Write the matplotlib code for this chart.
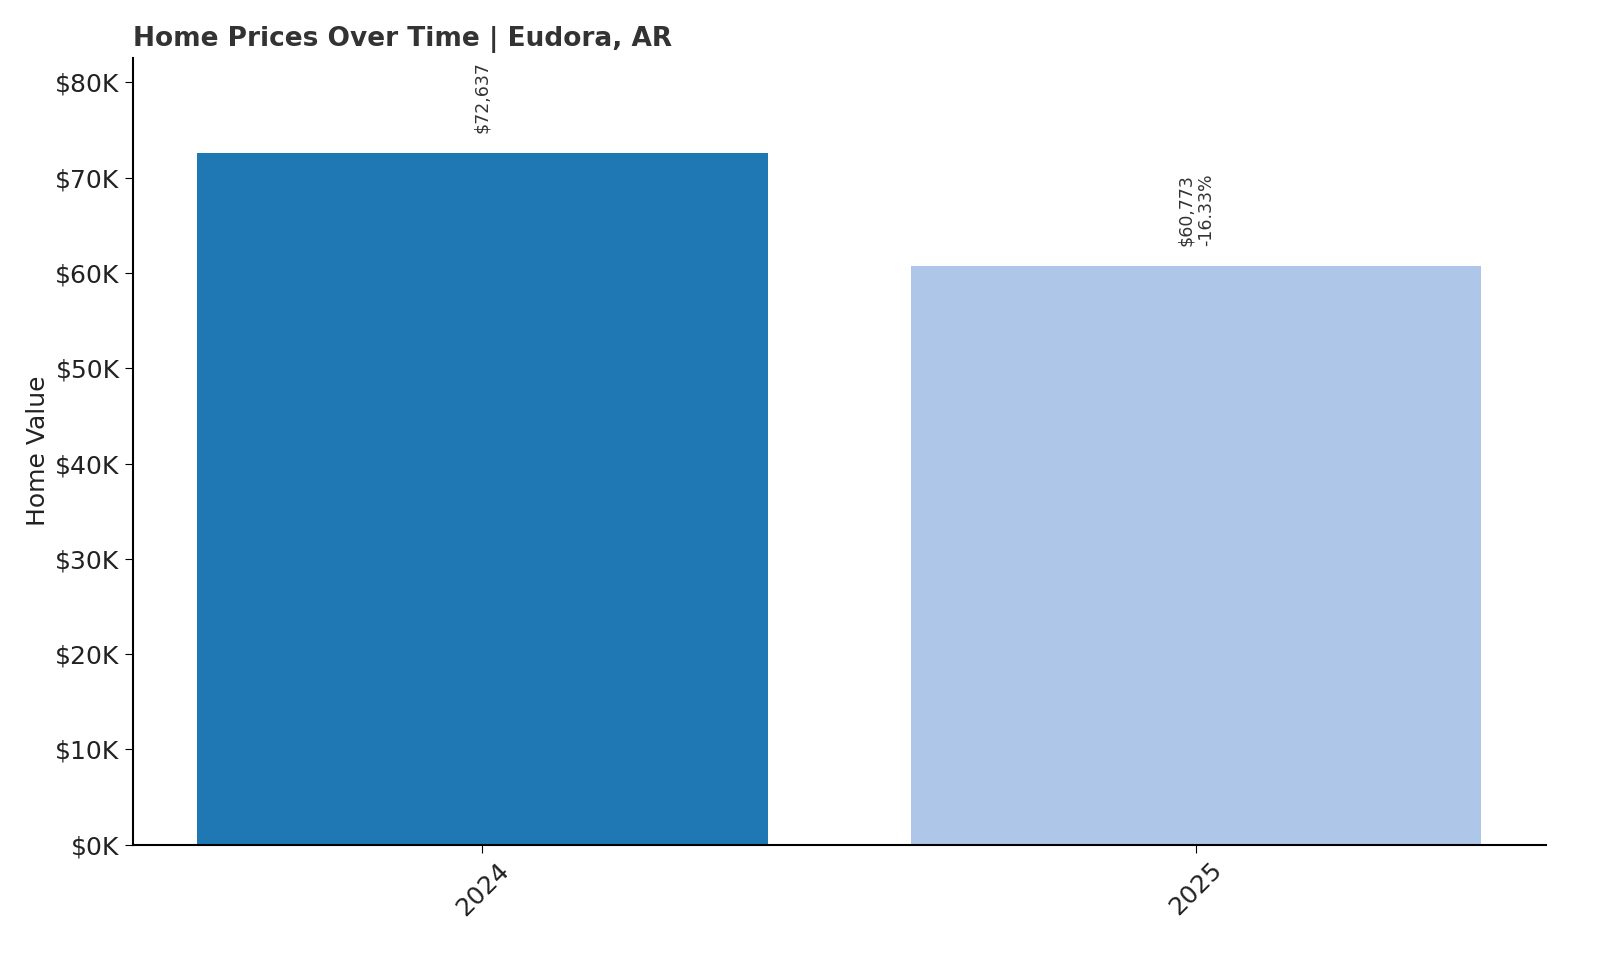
import matplotlib
matplotlib.use("Agg")
import matplotlib.pyplot as plt
from matplotlib.ticker import FuncFormatter

years = ["2024", "2025"]
values = [72637, 60773]
pct_labels = ["", "-16.33%"]
colors = ["#1f77b4", "#aec7e8"]

fig, ax = plt.subplots(figsize=(16, 9.6), dpi=100)

x = list(range(len(years)))
bars = ax.bar(x, values, width=0.8, color=colors)

# value labels above bars, rotated
for i, (b, v) in enumerate(zip(bars, values)):
    label = f"${v:,.0f}"
    if pct_labels[i]:
        label += "\n" + pct_labels[i]
    ax.annotate(label, (b.get_x() + b.get_width() / 2, v),
                xytext=(0, 14), textcoords="offset points",
                rotation=90, ha="center", va="bottom",
                fontsize=12.5, color="#333333")

ax.set_xticks(x)
ax.set_xticklabels(years, rotation=45, fontsize=18, color="#222222")
ax.set_ylim(0, 82600)
ax.yaxis.set_major_formatter(FuncFormatter(lambda v, p: f"${v/1000:.0f}K"))
ax.tick_params(axis="y", labelsize=18, length=6, labelcolor="#222222")
ax.tick_params(axis="x", length=6)
ax.set_ylabel("Home Value", fontsize=18, color="#222222")
ax.set_title("Home Prices Over Time | Eudora, AR", loc="left",
             fontsize=19, fontweight="bold", color="#333333", pad=8)

ax.spines["top"].set_visible(False)
ax.spines["right"].set_visible(False)
for s in ("left", "bottom"):
    ax.spines[s].set_linewidth(1.5)

plt.subplots_adjust(left=0.083, right=0.966, top=0.94, bottom=0.12)
plt.savefig("out.png")
